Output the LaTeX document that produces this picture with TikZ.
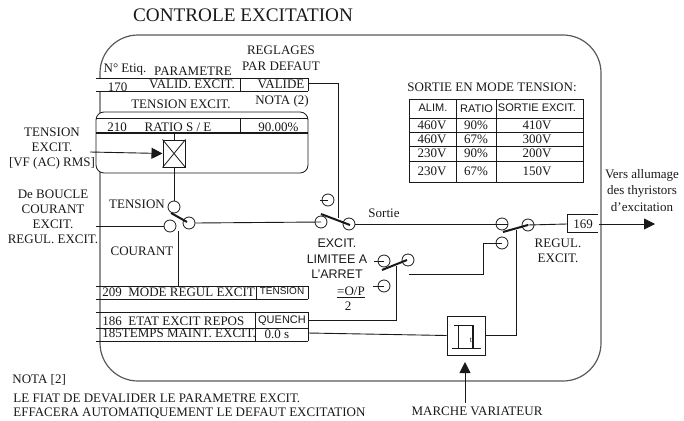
\documentclass[tikz,border=0pt]{standalone}
\usepackage{fontspec}
\setmainfont{Liberation Serif}
\setsansfont{Liberation Sans}
\usetikzlibrary{arrows.meta}
\tikzset{
 lbl/.style={inner sep=0pt,font=\fontsize{13}{15}\selectfont},
 lblsf/.style={inner sep=0pt,font=\fontsize{12.5}{15}\sffamily\selectfont},
 lblsm/.style={inner sep=0pt,font=\fontsize{11}{13}\sffamily\selectfont},
 term/.style={circle,draw,inner sep=0pt,minimum size=12pt},
 blockbox/.style={rectangle,draw,inner sep=0pt,line width=1pt},
 arm/.style={line width=2pt},
 wire/.style={line width=0.9pt},
 headto/.style={-{Triangle[length=11pt,width=11pt]},line width=0.9pt}
}
\begin{document}
\begin{tikzpicture}[x=1pt,y=-1pt,line width=0.8pt,color=black!90]
 \useasboundingbox (0,0) rectangle (684,420);
 % ---- outer frame ----
 \draw[line width=1.2pt,black!65,rounded corners=38pt](100,35)rectangle(601,381);
 % ---- parameter rows ----
 \fill[white](96,78)rectangle(101,91);
 \foreach \ya/\yb/\xd in {78/91/240, 286/299/256, 312/328/255, 328/341/255} {
   \draw(96,\ya)--(308,\ya); \draw(96,\yb)--(308,\yb);
   \draw(308,\ya)--(308,\yb); \draw(\xd,\ya)--(\xd,\yb);}
 % ---- ratio block ----
 \draw[fill=white,rounded corners=8pt](96,112)rectangle(308,173);
 \draw(96,118)--(308,118); \draw[line width=1.1pt](96,133)--(308,133);
 \draw(240,118)--(240,133);
 % ---- blocks ----
 \node[blockbox,minimum width=22pt,minimum height=27pt] (mult) at (174,153.5) {};
 \draw(mult.north west)--(mult.south east); \draw(mult.north east)--(mult.south west);
 \node[blockbox,minimum width=38pt,minimum height=39pt] (pulse) at (466,335.5) {};
 \draw(452,348)--(481,348); \draw(454,325)--(473,325); \draw(458,325)--(458,348);
 \draw[line width=1.2pt](473,325)--(473,348);
 \node[lbl,font=\fontsize{8}{9}\selectfont] (tlab) at (471,340) {t};
 \node[lbl] (ref169) at (583,224) {169};
 \coordinate (b169w) at (567,224); \coordinate (b169e) at (599,224);
 \draw(598,214)--(567,214)--(567,232)--(598,232);
 % ---- switch contacts ----
 \foreach \n/\x/\y in {sa/174/207, sb/189/223, sc/170/226, ta/328/200, tb/321/222, tc/349/224,
   ua/384/261, ub/384/286, uc/408/260, va/502/224, vb/502/243, vc/528/225}
   \node[term] (\n) at (\x,\y) {};
 \draw[arm](171,213)--(187,222); \draw[arm](321,214)--(350,225);
 \draw[arm](382,270)--(407,260); \draw[arm](503,232)--(528,225);
 % ---- ticks and free ends ----
 \coordinate (valide) at (308,83); \coordinate (inmult) at (90,152);
 \coordinate (inreg) at (96,226); \coordinate (r209) at (178,286);
 \coordinate (r186) at (308,320); \coordinate (r185) at (308,333);
 \coordinate (sw3) at (409,274); \coordinate (outend) at (655,224);
 \coordinate (marche) at (465,403); \coordinate (pulsein) at (465,362);
 \coordinate (sbot) at (178,231); \coordinate (tarm) at (338,218);
 \coordinate (uarm) at (396,266); \coordinate (varm) at (516,230);
 \draw(ta.center)--+(-8,0); \draw(ua.center)--+(-10,0); \draw(ub.center)--+(-11,0);
 % ---- wiring ----
 \draw[wire](valide)-|(tarm);
 \draw[wire](174,133)--(mult.north);
 \draw[wire](mult.south)--(sa.north);
 \draw[wire](inreg)--(sc.west);
 \draw[wire](sbot)--(r209);
 \draw[wire](sb.east)--(tb.center);
 \draw[wire](tc.east)--(va.east);
 \draw[wire](vb.center)-|(483,274)--(sw3);
 \draw[wire](uarm)|-(r186);
 \draw[wire](r185)--(pulse.west);
 \draw[wire](varm)|-(pulse.east);
 \draw[wire](vc.center)--(b169w);
 \draw[headto](b169e)--(outend);
 \draw[headto](inmult)--(mult.west);
 \draw[headto](marche)--(pulsein);
 % ---- output table ----
 \draw(409,99)rectangle(583,182);
 \foreach \y in {118,132,146,161} \draw(409,\y)--(583,\y);
 \foreach \x in {456,496} \draw(\x,99)--(\x,182);
 \node[lblsm] (hdra) at (433,108) {ALIM.};
 \node[lblsm] (hdrb) at (476.5,109) {RATIO};
 \node[lblsm] (hdrc) at (537,108) {SORTIE EXCIT.};
 \foreach \y/\a/\b/\c in {125/460V/90\%/410V, 139/460V/67\%/300V, 153/230V/90\%/200V, 171/230V/67\%/150V} {
   \node[lbl] at (432,\y) {\a}; \node[lbl] at (476,\y) {\b}; \node[lbl] at (537,\y) {\c};}
 % ---- labels ----
 \node[lbl,font=\fontsize{19.2}{22}\selectfont] (title) at (243,15) {CONTROLE EXCITATION};
 \foreach \n/\x/\y/\t in {r1/281/50/REGLAGES, r2/281/66/PAR DEFAUT, h1/125/70/{N° Etiq.}, h2/193/71/PARAMETRE,
   p170/117.5/87/170, p170b/192/84/{VALID. EXCIT.}, p170c/281/84/VALIDE, te/181/104/{TENSION EXCIT.}, nt/282/101/{NOTA (2)},
   p210/117/127/210, p210b/178/127/{RATIO S / E}, p210c/278.5/127/90.00\%,
   l1/52/132/TENSION, l2/52/147/EXCIT., l3/52/163/{[VF (AC) RMS]},
   d1/53/194/De BOUCLE, d2/53/209/COURANT, d3/53/224/EXCIT., d4/53/239/{REGUL. EXCIT.},
   st/137/204/TENSION, sc2/142/251/COURANT, so/384/213/Sortie, eq/351/292/{\underline{=O/P}}, eq2/348/306/2,
   g1/558/243/REGUL., g2/558/258/EXCIT., m1/477/411/MARCHE VARIATEUR,
   v1/642/175/Vers allumage, v2/642/191/des thyristors, v3/642/207/d'excitation, tt/492/87/{SORTIE EN MODE TENSION:}}
   \node[lbl] (\n) at (\x,\y) {\t};
 \foreach \n/\x/\y/\t in {e1/337/243/EXCIT., e2/337/259/LIMITEE A, e3/337/274/L'ARRET}
   \node[lblsf] (\n) at (\x,\y) {\t};
 \node[lblsm,font=\fontsize{10}{12}\sffamily\selectfont] (ten) at (282,291.5) {TENSION};
 \node[lblsm] (que) at (282,321) {QUENCH};
 \node[lbl] (zero) at (277,334) {0.0 s};
 \node[lbl,anchor=west] (p209) at (102,292) {209\ \ MODE REGUL EXCIT};
 \node[lbl,anchor=west] (p186) at (102,321) {186\ \ ETAT EXCIT REPOS};
 \node[lbl,anchor=west] (p185) at (102,333) {185TEMPS MAINT. EXCIT.};
 \node[lbl,anchor=west] (nota) at (12,380) {NOTA [2]};
 \node[lbl,anchor=west] (nb) at (13,398) {LE FIAT DE DEVALIDER LE PARAMETRE EXCIT.};
 \node[lbl,anchor=west] (nc) at (13,413) {EFFACERA AUTOMATIQUEMENT LE DEFAUT EXCITATION};
\end{tikzpicture}
\end{document}
